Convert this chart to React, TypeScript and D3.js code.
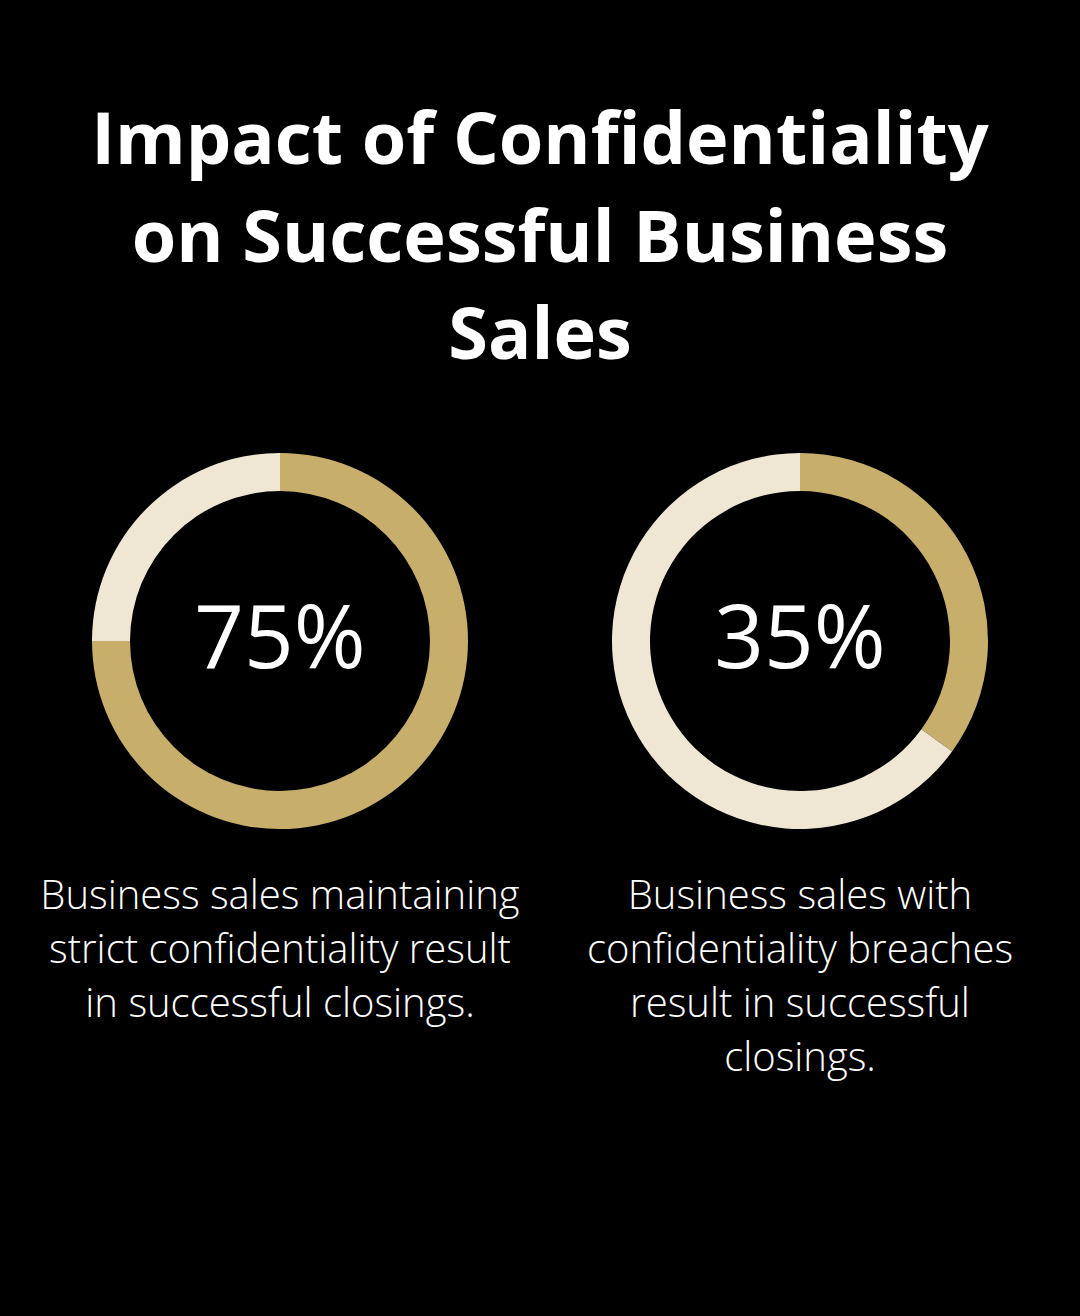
import React from "react";
import * as d3 from "d3";

const titleLines = ["Impact of Confidentiality", "on Successful Business", "Sales"];
const percentValues = [75, 35];
const descriptions = [
  ["Business sales maintaining", "strict confidentiality result", "in successful closings."],
  ["Business sales with", "confidentiality breaches", "result in successful", "closings."],
];
const segmentColors = ["#C7AF6B", "#EFE6D4"];

const W = 1080;
const H = 1316;

export default function App() {
  const centers = [280, 800];
  const cy = 641;
  const outerR = 188;
  const innerR = 150;
  const pie = d3.pie<number>().sort(null).value((d) => d);
  const arc = d3.arc<d3.PieArcDatum<number>>().innerRadius(innerR).outerRadius(outerR);
  const font = "'Open Sans', sans-serif";

  return (
    <svg width={W} height={H} style={{ display: "block", position: "absolute", left: 0, top: 0 }}>
      <rect width={W} height={H} fill="#000" />
      {titleLines.map((t, i) => (
        <text
          key={i}
          x={W / 2}
          y={164 + i * 97.5}
          textAnchor="middle"
          fill="#fff"
          fontFamily={font}
          fontWeight={700}
          fontSize={72}
        >
          {t}
        </text>
      ))}
      {percentValues.map((v, i) => {
        const arcs = pie([v, 100 - v]);
        return (
          <g key={i} transform={`translate(${centers[i]},${cy})`}>
            {arcs.map((a, j) => (
              <path key={j} d={arc(a) || ""} fill={segmentColors[j]} />
            ))}
            <text
              x={0}
              y={27}
              textAnchor="middle"
              fill="#fff"
              fontFamily={font}
              fontWeight={400}
              fontSize={87}
            >
              {`${v}%`}
            </text>
          </g>
        );
      })}
      {descriptions.map((lines, i) =>
        lines.map((l, k) => (
          <text
            key={`${i}-${k}`}
            x={centers[i]}
            y={909 + k * 54}
            textAnchor="middle"
            fill="#fff"
            fontFamily={font}
            fontWeight={300}
            fontSize={40}
          >
            {l}
          </text>
        ))
      )}
    </svg>
  );
}
